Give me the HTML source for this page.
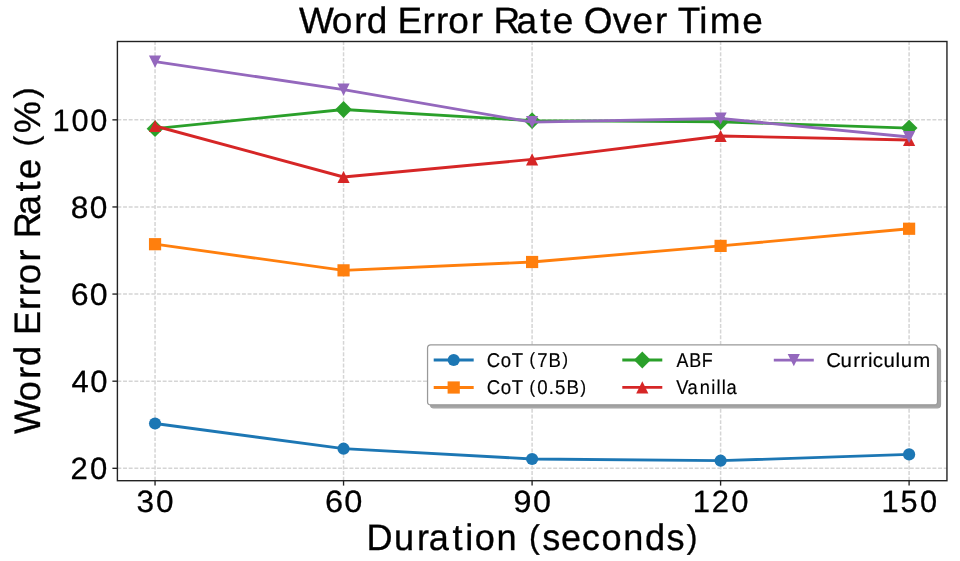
<!DOCTYPE html>
<html lang="en"><head><meta charset="utf-8"><title>Word Error Rate Over Time</title>
<style>html,body{margin:0;padding:0;background:#fff;}body{width:960px;height:561px;overflow:hidden;}svg{display:block;}text{font-family:"Liberation Sans",sans-serif;fill:#000;stroke:#000;text-rendering:geometricPrecision;}</style></head><body>
<svg width="960" height="561" viewBox="0 0 960 561">
<defs><filter id="soft" x="0" y="0" width="960" height="561" filterUnits="userSpaceOnUse"><feGaussianBlur stdDeviation="0.45"/></filter></defs>
<rect width="960" height="561" fill="#fff"/>
<g filter="url(#soft)">
<rect width="960" height="561" fill="#fff"/>
<g stroke="#d5d5d5" stroke-width="1.5" stroke-dasharray="3.92 1.74" fill="none">
<path d="M155.05 480.7V41.5"/>
<path d="M343.55 480.7V41.5"/>
<path d="M532.10 480.7V41.5"/>
<path d="M720.60 480.7V41.5"/>
<path d="M909.10 480.7V41.5"/>
<path d="M117.4 468.30H946.95"/>
<path d="M117.4 381.19H946.95"/>
<path d="M117.4 294.07H946.95"/>
<path d="M117.4 206.96H946.95"/>
<path d="M117.4 119.85H946.95"/>
</g>
<g><polyline points="155.05,423.50 343.55,448.70 532.10,459.00 720.60,460.70 909.10,454.40" fill="none" stroke="#1f77b4" stroke-width="2.85" stroke-linejoin="round"/>
<circle cx="155.05" cy="423.50" r="6.1" fill="#1f77b4"/>
<circle cx="343.55" cy="448.70" r="6.1" fill="#1f77b4"/>
<circle cx="532.10" cy="459.00" r="6.1" fill="#1f77b4"/>
<circle cx="720.60" cy="460.70" r="6.1" fill="#1f77b4"/>
<circle cx="909.10" cy="454.40" r="6.1" fill="#1f77b4"/>
</g>
<g><polyline points="155.05,244.20 343.55,270.35 532.10,262.00 720.60,245.90 909.10,228.75" fill="none" stroke="#ff7f0e" stroke-width="2.85" stroke-linejoin="round"/>
<rect x="148.95" y="238.10" width="12.2" height="12.2" fill="#ff7f0e"/>
<rect x="337.45" y="264.25" width="12.2" height="12.2" fill="#ff7f0e"/>
<rect x="526.00" y="255.90" width="12.2" height="12.2" fill="#ff7f0e"/>
<rect x="714.50" y="239.80" width="12.2" height="12.2" fill="#ff7f0e"/>
<rect x="903.00" y="222.65" width="12.2" height="12.2" fill="#ff7f0e"/>
</g>
<g><polyline points="155.05,128.70 343.55,109.50 532.10,120.70 720.60,121.75 909.10,128.05" fill="none" stroke="#2ca02c" stroke-width="2.85" stroke-linejoin="round"/>
<path d="M155.05 120.30L163.45 128.70L155.05 137.10L146.65 128.70Z" fill="#2ca02c"/>
<path d="M343.55 101.10L351.95 109.50L343.55 117.90L335.15 109.50Z" fill="#2ca02c"/>
<path d="M532.10 112.30L540.50 120.70L532.10 129.10L523.70 120.70Z" fill="#2ca02c"/>
<path d="M720.60 113.35L729.00 121.75L720.60 130.15L712.20 121.75Z" fill="#2ca02c"/>
<path d="M909.10 119.65L917.50 128.05L909.10 136.45L900.70 128.05Z" fill="#2ca02c"/>
</g>
<g><polyline points="155.05,126.00 343.55,177.00 532.10,159.40 720.60,136.00 909.10,140.00" fill="none" stroke="#d62728" stroke-width="2.85" stroke-linejoin="round"/>
<path d="M155.05 119.90L161.15 132.10L148.95 132.10Z" fill="#d62728"/>
<path d="M343.55 170.90L349.65 183.10L337.45 183.10Z" fill="#d62728"/>
<path d="M532.10 153.30L538.20 165.50L526.00 165.50Z" fill="#d62728"/>
<path d="M720.60 129.90L726.70 142.10L714.50 142.10Z" fill="#d62728"/>
<path d="M909.10 133.90L915.20 146.10L903.00 146.10Z" fill="#d62728"/>
</g>
<g><polyline points="155.05,61.60 343.55,89.60 532.10,122.20 720.60,118.50 909.10,137.00" fill="none" stroke="#9467bd" stroke-width="2.85" stroke-linejoin="round"/>
<path d="M155.05 67.70L161.15 55.50L148.95 55.50Z" fill="#9467bd"/>
<path d="M343.55 95.70L349.65 83.50L337.45 83.50Z" fill="#9467bd"/>
<path d="M532.10 128.30L538.20 116.10L526.00 116.10Z" fill="#9467bd"/>
<path d="M720.60 124.60L726.70 112.40L714.50 112.40Z" fill="#9467bd"/>
<path d="M909.10 143.10L915.20 130.90L903.00 130.90Z" fill="#9467bd"/>
</g>
<rect x="117.4" y="41.5" width="829.55" height="439.20" fill="none" stroke="#222" stroke-width="1.4"/>
<g stroke="#222" stroke-width="1.35">
<path d="M155.05 480.7v4.9"/>
<path d="M343.55 480.7v4.9"/>
<path d="M532.10 480.7v4.9"/>
<path d="M720.60 480.7v4.9"/>
<path d="M909.10 480.7v4.9"/>
<path d="M117.4 468.30h-5.0"/>
<path d="M117.4 381.19h-5.0"/>
<path d="M117.4 294.07h-5.0"/>
<path d="M117.4 206.96h-5.0"/>
<path d="M117.4 119.85h-5.0"/>
</g>
<text transform="translate(136.60 512.40) scale(1.0244 1)" x="0.00 18.92" font-size="30.8" stroke-width="0.28">30</text>
<text transform="translate(324.93 512.40) scale(1.0571 1)" x="0.00 18.28" font-size="30.8" stroke-width="0.28">60</text>
<text transform="translate(513.61 512.40) scale(1.0497 1)" x="0.00 18.38" font-size="30.8" stroke-width="0.28">90</text>
<text transform="translate(692.81 512.40) scale(1.0061 1)" x="0.00 18.84 38.33" font-size="30.8" stroke-width="0.28">120</text>
<text transform="translate(881.38 512.40) scale(0.9988 1)" x="0.00 19.26 38.61" font-size="30.8" stroke-width="0.28">150</text>
<text transform="translate(70.50 479.20) scale(1.0091 1)" x="0.00 19.32" font-size="30.8" stroke-width="0.28">20</text>
<text transform="translate(71.49 392.09) scale(1.0056 1)" x="0.00 18.59" font-size="30.8" stroke-width="0.28">40</text>
<text transform="translate(70.70 304.97) scale(1.0417 1)" x="0.00 18.28" font-size="30.8" stroke-width="0.28">60</text>
<text transform="translate(70.86 217.86) scale(1.0279 1)" x="0.00 18.49" font-size="30.8" stroke-width="0.28">80</text>
<text transform="translate(52.45 130.75) scale(0.9974 1)" x="0.00 19.01 37.86" font-size="30.8" stroke-width="0.28">100</text>
<text transform="translate(298.96 33.10) scale(1.0107 1)" x="0.00 32.46 54.66 67.01 87.36 97.56 122.26 135.71 147.73 169.92 182.11 192.46 215.25 238.73 251.01 271.37 281.72 310.36 330.03 352.22 364.41 374.83 396.09 406.38 438.58" font-size="36.6" stroke-width="0.33">Word Error Rate Over Time</text>
<text transform="translate(366.61 549.70) scale(0.9812 1)" x="0.00 27.82 51.25 63.29 87.48 100.50 110.13 132.30 152.77 165.64 179.13 198.08 219.30 239.30 261.47 283.69 305.70 326.18" font-size="36.8" stroke-width="0.33">Duration <tspan font-size="32.75" dy="-2.13">(</tspan><tspan dy="2.13">s</tspan>econds<tspan font-size="32.75" dy="-2.13">)</tspan></text>
<text transform="translate(39.50 434.03) rotate(-90) scale(0.9823 1)" x="0.00 33.40 56.29 69.17 89.63 100.90 126.30 140.23 152.77 175.66 187.91 199.20 222.72 246.86 259.73 280.19 292.66 306.29 341.73" font-size="36.8" stroke-width="0.33">Word Error Rate <tspan font-size="32.75" dy="-2.13">(</tspan><tspan dy="2.13">%</tspan><tspan font-size="32.75" dy="-2.13">)</tspan></text>
<rect x="430.55" y="347.85" width="509.95" height="60.0" rx="3.2" fill="#a3a3a3" stroke="#a3a3a3" stroke-width="1.2"/>
<rect x="427.55" y="344.85" width="509.95" height="60.0" rx="3.2" fill="#fff" stroke="#999" stroke-width="1.25"/>
<path d="M433.7 360.0h40" stroke="#1f77b4" stroke-width="2.85" fill="none"/>
<circle cx="453.70" cy="360.00" r="6.1" fill="#1f77b4"/>
<text transform="translate(486.72 366.60) scale(0.9313 1)" x="0.00 15.00 26.80 38.96 46.02 54.19 66.47 81.48" font-size="19.9" stroke-width="0.18">CoT <tspan font-size="17.71" dy="-1.15">(</tspan><tspan dy="1.15">7</tspan>B<tspan font-size="17.71" dy="-1.15">)</tspan></text>
<path d="M433.7 387.5h40" stroke="#ff7f0e" stroke-width="2.85" fill="none"/>
<rect x="447.60" y="381.40" width="12.2" height="12.2" fill="#ff7f0e"/>
<text transform="translate(486.67 394.10) scale(0.9383 1)" x="0.00 14.90 26.62 38.78 45.73 53.87 66.20 72.93 85.16 100.09" font-size="19.9" stroke-width="0.18">CoT <tspan font-size="17.71" dy="-1.15">(</tspan><tspan dy="1.15">0</tspan>.5B<tspan font-size="17.71" dy="-1.15">)</tspan></text>
<path d="M622.3 360.0h40" stroke="#2ca02c" stroke-width="2.85" fill="none"/>
<path d="M642.30 351.60L650.70 360.00L642.30 368.40L633.90 360.00Z" fill="#2ca02c"/>
<text transform="translate(676.51 366.60) scale(0.8990 1)" x="0.00 14.31 28.05" font-size="19.9" stroke-width="0.18">ABF</text>
<path d="M622.3 387.4h40" stroke="#d62728" stroke-width="2.85" fill="none"/>
<path d="M642.30 381.30L648.40 393.50L636.20 393.50Z" fill="#d62728"/>
<text transform="translate(676.35 394.00) scale(0.9203 1)" x="0.00 12.00 25.48 38.05 43.70 49.36 54.37" font-size="19.9" stroke-width="0.18">Vanilla</text>
<path d="M773.8 360.1h40" stroke="#9467bd" stroke-width="2.85" fill="none"/>
<path d="M793.80 366.20L799.90 354.00L787.70 354.00Z" fill="#9467bd"/>
<text transform="translate(826.25 366.70) scale(1.0261 1)" x="0.00 13.99 26.22 33.47 40.58 45.21 55.74 67.50 72.53 84.68" font-size="19.9" stroke-width="0.18">Curriculum</text>
</g>
</svg></body></html>
